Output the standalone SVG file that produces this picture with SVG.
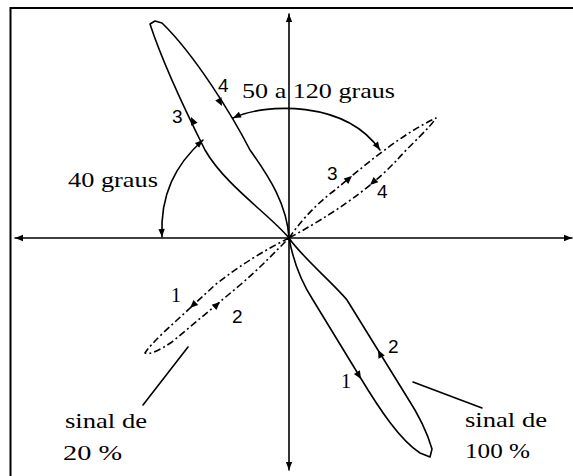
<svg xmlns="http://www.w3.org/2000/svg" width="573" height="476" viewBox="0 0 573 476">
<style>
.ln{fill:none;stroke:#000;stroke-width:1.6;stroke-linejoin:round;stroke-linecap:round}
.dd{fill:none;stroke:#000;stroke-width:1.6;stroke-dasharray:7 3 2 3;stroke-linejoin:round}
.ar{marker-start:url(#arr);marker-end:url(#arr)}
text{fill:#000}
</style>
<defs>
<marker id="arr" viewBox="0 0 10 10" refX="10" refY="5" markerWidth="9" markerHeight="8" markerUnits="userSpaceOnUse" orient="auto-start-reverse">
<path d="M0,1 L10,5 L0,9 Z" fill="#000"/>
</marker>
<path id="ah" d="M0,0 L-8,-3.5 L-8,3.5 Z" fill="#000"/>
</defs>
<rect width="573" height="476" fill="#fff"/>
<g id="frame">
<path d="M10.5,476 L10.5,8 L573,8" fill="none" stroke="#000" stroke-width="2"/>
</g>
<g id="axes">
<line class="ln ar" x1="289" y1="470" x2="289" y2="14"/>
<line class="ln ar" x1="15" y1="238" x2="572" y2="238"/>
</g>
<g id="loop-100" font-family="Liberation Sans, Arial, sans-serif" font-size="19">
<path class="ln" d="M289,238 C270,215 225,185 205,150 C190,120 165,70 150,24 L155,21 L162,23 C195,55 232,115 250,150 C270,178 287,205 289,238 Z"/>
<path class="ln" d="M289,238 C293,260 300,280 313,300 L360,377 C380,410 400,440 420,453 L430,457 L432,449 C428,435 422,420 407,397 L347,300 C335,285 300,255 289,238 Z"/>
<use href="#ah" transform="translate(191,117) rotate(-115)"/>
<use href="#ah" transform="translate(222,106) rotate(63)"/>
<use href="#ah" transform="translate(378,350) rotate(-117)"/>
<use href="#ah" transform="translate(361,379) rotate(59)"/>
<text x="172" y="123">3</text>
<text x="218" y="92">4</text>
<text x="388" y="353">2</text>
<text x="341" y="388" font-family="Liberation Serif, DejaVu Serif, serif" font-size="20">1</text>
</g>
<g id="loop-20" font-family="Liberation Sans, Arial, sans-serif" font-size="19">
<path class="dd" d="M289,238 C300,222 315,205 335,190 C365,165 400,135 436,118 C430,128 410,145 397,160 C380,178 350,205 289,238 Z"/>
<path class="dd" d="M289,238 C265,250 240,265 215,285 L163,333 C155,341 148,348 145,353 C150,355 160,350 172,342 L240,285 C260,268 275,252 289,238 Z"/>
<use href="#ah" transform="translate(352,176) rotate(-41)"/>
<use href="#ah" transform="translate(370,185) rotate(138)"/>
<use href="#ah" transform="translate(190,308) rotate(137)"/>
<use href="#ah" transform="translate(220,302) rotate(-42)"/>
<text x="327" y="180">3</text>
<text x="377" y="198">4</text>
<text x="171" y="302" font-family="Liberation Serif, DejaVu Serif, serif" font-size="20">1</text>
<text x="232" y="323">2</text>
</g>
<g id="connectors">
<path class="ln ar" d="M233,118 C265,103 345,100 380,150"/>
<path class="ln ar" d="M162,237 C160,195 175,165 203,140"/>
<line class="ln" x1="188" y1="347" x2="143" y2="405"/>
<line class="ln" x1="413" y1="382" x2="482" y2="408"/>
</g>
<g id="labels" font-family="Liberation Serif, DejaVu Serif, serif" font-size="21">
<text x="242" y="98" textLength="153" lengthAdjust="spacingAndGlyphs">50 a 120 graus</text>
<text x="68" y="187" textLength="90" lengthAdjust="spacingAndGlyphs">40 graus</text>
<text x="65" y="428" textLength="82" lengthAdjust="spacingAndGlyphs">sinal de</text>
<text x="63" y="460" textLength="59" lengthAdjust="spacingAndGlyphs">20 %</text>
<text x="465" y="427" textLength="82" lengthAdjust="spacingAndGlyphs">sinal de</text>
<text x="465" y="458" textLength="65" lengthAdjust="spacingAndGlyphs">100 %</text>
</g>
</svg>
